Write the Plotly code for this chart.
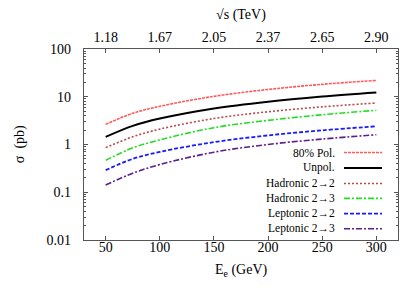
import plotly.graph_objects as go

Ee = [50, 75, 100, 150, 200, 250, 300]
pol80 = [2.64, 4.5, 6.3, 10.2, 14.2, 18.2, 22.0]
unpol = [1.44, 2.45, 3.5, 5.7, 7.9, 10.1, 12.3]
had22 = [0.86, 1.45, 2.1, 3.5, 4.85, 6.15, 7.4]
had23 = [0.465, 0.85, 1.25, 2.25, 3.2, 4.2, 5.2]
lep22 = [0.29, 0.5, 0.7, 1.12, 1.55, 1.98, 2.4]
lep23 = [0.142, 0.25, 0.38, 0.69, 1.0, 1.3, 1.6]

names = ["80% Pol.", "Unpol.", "Hadronic 2→2", "Hadronic 2→3", "Leptonic 2→2", "Leptonic 2→3"]
series = [pol80, unpol, had22, had23, lep22, lep23]
colors = ["#ff5a5a", "#000000", "#b84a4a", "#22dd22", "#1a1aff", "#5a1f8a"]
dashes = ["3px,1px", "solid", "2px,2px", "6px,2px,2px,2px", "4px,2px", "6px,2px,2px,2px"]
widths = [1.6, 2.0, 1.6, 1.6, 1.8, 1.6]

top_tickvals = [50, 100, 150, 200, 250, 300]
top_ticktext = ["1.18", "1.67", "2.05", "2.37", "2.65", "2.90"]

font = "Liberation Serif, Times New Roman, serif"
fig = go.Figure()
for n, s, c, d, w in zip(names, series, colors, dashes, widths):
    fig.add_trace(go.Scatter(x=Ee, y=s, name=n, mode="lines", showlegend=False,
                             line=dict(color=c, dash=d, width=w, shape="spline")))
fig.add_trace(go.Scatter(x=Ee, y=unpol, xaxis="x2", mode="lines",
                         line=dict(width=0), showlegend=False, hoverinfo="skip",
                         opacity=0))

# manual legend (text right-aligned, sample line to the right as in the reference)
leg_text_x = 0.806
leg_x0, leg_x1 = 0.828, 0.949
leg_y = [0.458, 0.377, 0.296, 0.218, 0.138, 0.059]
for n, c, d, w, yy in zip(names, colors, dashes, widths, leg_y):
    fig.add_annotation(x=leg_text_x, y=yy, xref="paper", yref="paper", text=n,
                       showarrow=False, xanchor="right", yanchor="middle",
                       font=dict(family=font, size=11.5, color="black"))
    fig.add_shape(type="line", xref="paper", yref="paper", x0=leg_x0, x1=leg_x1,
                  y0=yy, y1=yy, line=dict(color=c, dash=d, width=w))

# axis titles
fig.add_annotation(x=0.5, y=1.18, xref="paper", yref="paper", text="√s (TeV)",
                   showarrow=False, xanchor="center", yanchor="middle",
                   font=dict(family=font, size=14))
fig.add_annotation(x=0.5, y=-0.16, xref="paper", yref="paper", text="E<sub>e</sub> (GeV)",
                   showarrow=False, xanchor="center", yanchor="middle",
                   font=dict(family=font, size=14))
fig.add_annotation(x=-0.205, y=0.5, xref="paper", yref="paper", text="σ  (pb)",
                   showarrow=False, xanchor="center", yanchor="middle", textangle=-90,
                   font=dict(family=font, size=14))

axis_common = dict(showline=True, linecolor="#555555", linewidth=1.2,
                   ticks="inside", tickcolor="#555555", ticklen=4, showgrid=False,
                   zeroline=False, tickfont=dict(family=font, size=14, color="black"))

fig.update_layout(
    width=415, height=291,
    margin=dict(l=76, r=25, t=41, b=59),
    paper_bgcolor="white", plot_bgcolor="white",
    font=dict(family=font, size=14, color="black"),
    xaxis=dict(range=[30, 320], tickvals=[50, 100, 150, 200, 250, 300], mirror=False,
               ticklabelstandoff=-6, **axis_common),
    xaxis2=dict(range=[30, 320], overlaying="x", side="top", matches="x",
                tickvals=top_tickvals, ticktext=top_ticktext, mirror=False,
                **axis_common),
    yaxis=dict(type="log", range=[-2, 2], tickvals=[0.01, 0.1, 1, 10, 100],
               ticktext=["0.01", "0.1", "1", "10", "100"], mirror="ticks",
               ticklabelstandoff=9,
               minor=dict(ticks="inside", ticklen=2, tickcolor="#555555",
                          tickvals=[a * 10 ** b for b in [-2, -1, 0, 1] for a in range(2, 10)]),
               **axis_common),
    showlegend=False,
)
fig.write_html("out.html")
